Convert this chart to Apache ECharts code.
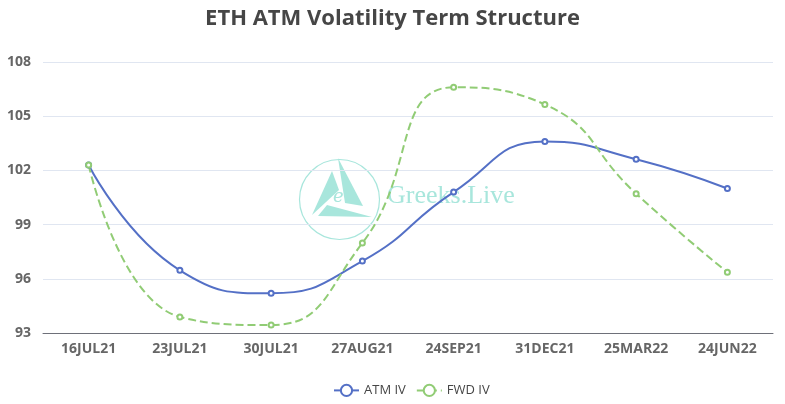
<!DOCTYPE html>
<html>
<head>
<meta charset="utf-8">
<script src="https://cdn.jsdelivr.net/npm/echarts@6/dist/echarts.min.js"></script>
<style>
  html, body { margin: 0; padding: 0; background: #fff; }
  #container { width: 785px; height: 404px; }
</style>
</head>
<body>
<div id="container"></div>
<script>
var expiries = ["16JUL21", "23JUL21", "30JUL21", "27AUG21", "24SEP21", "31DEC21", "25MAR22", "24JUN22"];
var atmIV = [102.3, 96.47, 95.2, 96.98, 100.8, 103.6, 102.62, 101.0];
var fwdIV = [102.3, 93.89, 93.44, 97.98, 106.6, 105.65, 100.71, 96.36];

var dom = document.getElementById("container");
var myChart = echarts.init(dom);
var font = "'Open Sans', 'Noto Sans', sans-serif";
var wmColor = "#a8e6dc";

var option = {
  animation: false,
  backgroundColor: "#fff",
  title: {
    text: "ETH ATM Volatility Term Structure",
    left: "center",
    top: 3,
    textStyle: { fontSize: 22, fontWeight: "bold", color: "#464646", fontFamily: font }
  },
  legend: {
    left: 328,
    bottom: 2,
    itemGap: 10,
    data: ["ATM IV", "FWD IV"],
    textStyle: { fontSize: 13, color: "#464646", fontFamily: font }
  },
  grid: { left: 43, right: 12, top: 62, bottom: 71 },
  graphic: [
    { type: "circle", left: 297, top: 157, shape: { r: 40 }, style: { fill: null, stroke: wmColor, lineWidth: 1.2 }, silent: true, z: 0 },
    { type: "polygon", shape: { points: [[332, 171], [312, 215], [339, 190]] }, style: { fill: wmColor }, silent: true, z: 0 },
    { type: "polygon", shape: { points: [[338, 158], [363, 206], [345, 203]] }, style: { fill: wmColor }, silent: true, z: 0 },
    { type: "polygon", shape: { points: [[327, 205], [318, 216], [372, 217]] }, style: { fill: wmColor }, silent: true, z: 0 },
    { type: "text", left: 333, top: 188, style: { text: "e", font: "italic 18px 'DejaVu Serif', 'Liberation Serif', serif", fill: wmColor }, silent: true, z: 1 },
    { type: "text", left: 387, top: 183, style: { text: "Greeks.Live", font: "26px 'Liberation Serif', 'DejaVu Serif', serif", fill: wmColor }, silent: true, z: 0 }
  ],
  xAxis: {
    type: "category",
    data: expiries,
    axisLine: { lineStyle: { color: "#6E7079" } },
    axisTick: { lineStyle: { color: "#6E7079" } },
    axisLabel: { fontSize: 14, fontWeight: "bold", color: "#666", margin: 9, fontFamily: font }
  },
  yAxis: {
    type: "value",
    min: 93,
    max: 108,
    interval: 3,
    axisLabel: { fontSize: 14, fontWeight: "bold", color: "#666", margin: 12, fontFamily: font },
    splitLine: { lineStyle: { color: "#E0E6F1" } }
  },
  series: [
    {
      name: "ATM IV",
      type: "line",
      data: atmIV,
      smooth: true,
      symbol: "emptyCircle",
      symbolSize: 5,
      itemStyle: { color: "#5470c6" },
      lineStyle: { width: 2, color: "#5470c6" }
    },
    {
      name: "FWD IV",
      type: "line",
      data: fwdIV,
      smooth: true,
      symbol: "emptyCircle",
      symbolSize: 5,
      itemStyle: { color: "#91cc75" },
      lineStyle: { width: 2, type: "dashed", color: "#91cc75" }
    }
  ]
};

myChart.setOption(option);
</script>
</body>
</html>
